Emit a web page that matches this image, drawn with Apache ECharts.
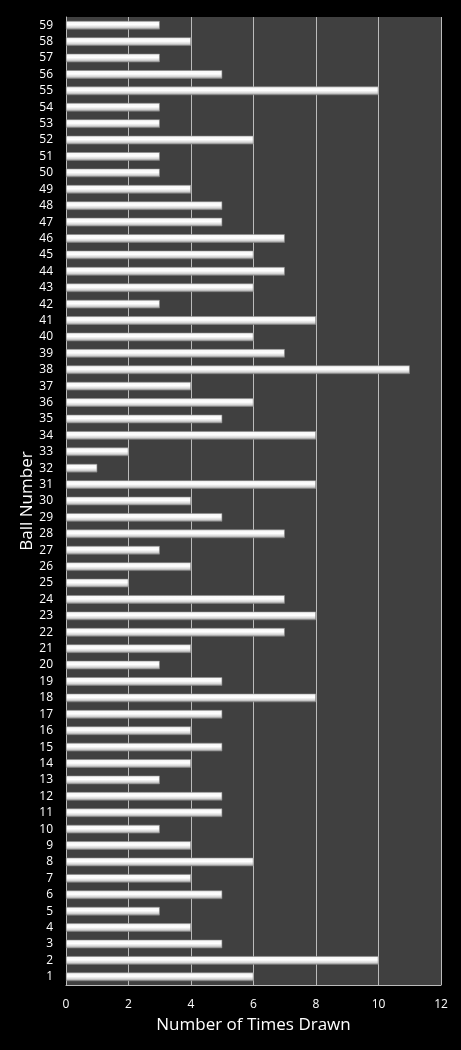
<!DOCTYPE html>
<html>
<head>
<meta charset="UTF-8">
<title>Ball Number Frequency</title>
<script src="https://cdn.jsdelivr.net/npm/echarts@6/dist/echarts.min.js"></script>
<style>
  html, body { margin: 0; padding: 0; background: #000; }
  #chart { width: 461px; height: 1050px; }
</style>
</head>
<body>
<div id="chart"></div>
<script>
// ball numbers, bottom to top
var balls = [];
for (var i = 1; i <= 59; i++) balls.push(String(i));

// times drawn for balls 1..59
var timesDrawn = [
  6, 10, 5, 4, 3, 5, 4, 6, 4, 3,
  5, 5, 3, 4, 5, 4, 5, 8, 5, 3,
  4, 7, 8, 7, 2, 4, 3, 7, 5, 4,
  8, 1, 2, 8, 5, 6, 4, 11, 7, 6,
  8, 3, 6, 7, 6, 7, 5, 5, 4, 3,
  3, 6, 3, 3, 10, 5, 3, 4, 3
];

var xTicks = { min: 0, max: 12, interval: 2 };

var chart = echarts.init(document.getElementById('chart'));
chart.setOption({
  backgroundColor: '#000',
  animation: false,
  textStyle: { fontFamily: 'Open Sans' },
  grid: { left: 66, right: 20, top: 17, bottom: 65, show: true, backgroundColor: '#404040', borderWidth: 0 },
  xAxis: {
    type: 'value',
    min: xTicks.min, max: xTicks.max, interval: xTicks.interval,
    name: 'Number of Times Drawn',
    nameLocation: 'middle',
    nameGap: 32,
    nameMoveOverlap: false,
    nameTextStyle: { color: '#fff', fontSize: 17 },
    axisLine: { show: true, lineStyle: { color: '#bbb' } },
    axisTick: { show: false },
    axisLabel: { color: '#fff', fontSize: 12, margin: 14 },
    splitLine: { show: true, lineStyle: { color: '#bbb', width: 1 } }
  },
  yAxis: {
    type: 'category',
    data: balls,
    name: 'Ball Number',
    nameLocation: 'middle',
    nameGap: 30,
    nameMoveOverlap: false,
    nameTextStyle: { color: '#fff', fontSize: 17 },
    axisLine: { show: true, lineStyle: { color: '#bbb' } },
    axisTick: { show: false },
    axisLabel: { color: '#fff', fontSize: 12, margin: 13, interval: 0 }
  },
  series: [{
    type: 'bar',
    data: timesDrawn,
    barWidth: '52%',
    itemStyle: {
      color: new echarts.graphic.LinearGradient(0, 0, 0, 1, [
        { offset: 0, color: '#f4f4f4' },
        { offset: 0.45, color: '#ffffff' },
        { offset: 0.75, color: '#d6d6d6' },
        { offset: 1, color: '#8c8c8c' }
      ]),
      borderColor: '#8a8a8a',
      borderWidth: 0.6
    }
  }]
});
</script>
</body>
</html>
